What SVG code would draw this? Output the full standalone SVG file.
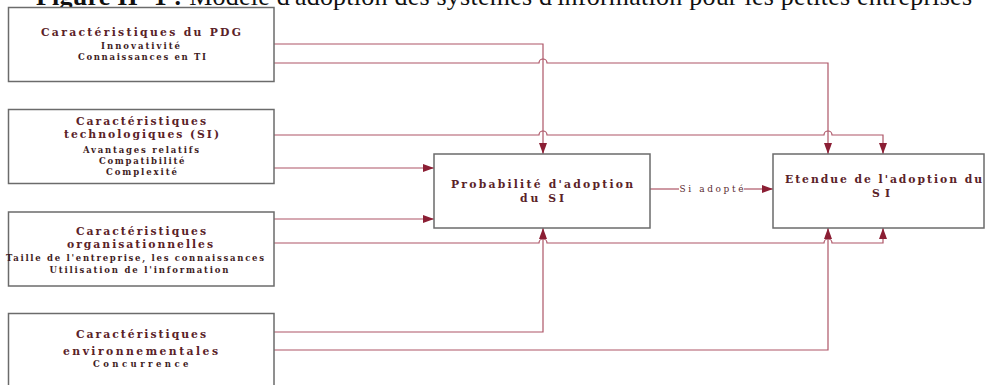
<svg xmlns="http://www.w3.org/2000/svg" width="985" height="385" viewBox="0 0 985 385">
<style>
.box{fill:#fff;stroke:#6b6b6b;stroke-width:1.5}
.h{font-family:"DejaVu Serif","Liberation Serif",serif;font-size:10.8px;font-weight:bold;fill:#5a2228}
.s{font-family:"DejaVu Serif","Liberation Serif",serif;font-size:8.5px;font-weight:bold;fill:#3e1c1e}
.c{fill:none;stroke:#ad5567;stroke-width:1.2}
.lab{font-family:"DejaVu Serif","Liberation Serif",serif;font-size:9px;fill:#5a2a30}
.t{font-family:"Liberation Serif","Times New Roman",serif;font-size:26px;fill:#111}
</style>
<defs>
<marker id="ar" markerUnits="userSpaceOnUse" markerWidth="12" markerHeight="8" refX="11" refY="4" orient="auto">
<path d="M0,0 L11,4 L0,8 z" fill="#8b1e34"/>
</marker>
</defs>
<rect width="985" height="385" fill="#fff"/>
<text class="t" x="36" y="4.5" textLength="936" lengthAdjust="spacing"><tspan font-weight="bold">Figure II- 1 :</tspan> Modèle d'adoption des systèmes d'information pour les petites entreprises</text>

<g id="connectors">
<path class="c" d="M274,44 H543 V154" marker-end="url(#ar)"/>
<path class="c" d="M274,63 H539 a4,4 0 0 1 8,0 H828 V154" marker-end="url(#ar)"/>
<path class="c" d="M274,135 H539 a4,4 0 0 1 8,0 H824 a4,4 0 0 1 8,0 H883 V154" marker-end="url(#ar)"/>
<path class="c" d="M274,168 H434" marker-end="url(#ar)"/>
<path class="c" d="M274,219 H434" marker-end="url(#ar)"/>
<path class="c" d="M274,243 H539 a4,4 0 0 1 8,0 H824 a4,4 0 0 1 8,0 H883 V228" marker-end="url(#ar)"/>
<path class="c" d="M274,332 H543 V228" marker-end="url(#ar)"/>
<path class="c" d="M274,350 H828 V228" marker-end="url(#ar)"/>
<path class="c" d="M650,189 H679"/>
<path class="c" d="M744,189 H773" marker-end="url(#ar)"/>
<text class="lab" x="679.5" y="192" textLength="64">Si adopté</text>
</g>

<g id="pdg">
<rect class="box" x="8.5" y="7.5" width="265.5" height="74"/>
<text class="h" x="41" y="36" textLength="200">Caractéristiques du PDG</text>
<text class="s" x="101" y="48.5" textLength="79">Innovativité</text>
<text class="s" x="78" y="60" textLength="128">Connaissances en TI</text>
</g>

<g id="techno">
<rect class="box" x="8.5" y="109.5" width="265.5" height="74"/>
<text class="h" x="76" y="124.5" textLength="130">Caractéristiques</text>
<text class="h" x="64" y="138" textLength="155">technologiques (SI)</text>
<text class="s" x="83" y="152.5" textLength="116">Avantages relatifs</text>
<text class="s" x="99" y="163.5" textLength="85.5">Compatibilité</text>
<text class="s" x="106" y="174.5" textLength="71">Complexité</text>
</g>

<g id="orga">
<rect class="box" x="8.5" y="212" width="265.5" height="74"/>
<text class="h" x="76" y="235" textLength="130">Caractéristiques</text>
<text class="h" x="67" y="247.5" textLength="146">organisationnelles</text>
<text class="s" x="6" y="261" textLength="258">Taille de l'entreprise, les connaissances</text>
<text class="s" x="49.5" y="273" textLength="179">Utilisation de l'information</text>
</g>

<g id="env">
<rect class="box" x="8.5" y="313.5" width="265.5" height="80"/>
<text class="h" x="76" y="338" textLength="130">Caractéristiques</text>
<text class="h" x="63" y="355" textLength="155">environnementales</text>
<text class="s" x="93" y="366.5" textLength="95.5">Concurrence</text>
</g>

<g id="proba">
<rect class="box" x="434" y="154" width="216" height="74"/>
<text class="h" x="451" y="188" textLength="182">Probabilité d'adoption</text>
<text class="h" x="520" y="202" textLength="44">du SI</text>
</g>

<g id="etendue">
<rect class="box" x="773" y="154" width="211" height="74"/>
<text class="h" x="785" y="183" textLength="197">Etendue de l'adoption du</text>
<text class="h" x="872" y="196.5" textLength="18">SI</text>
</g>
</svg>
